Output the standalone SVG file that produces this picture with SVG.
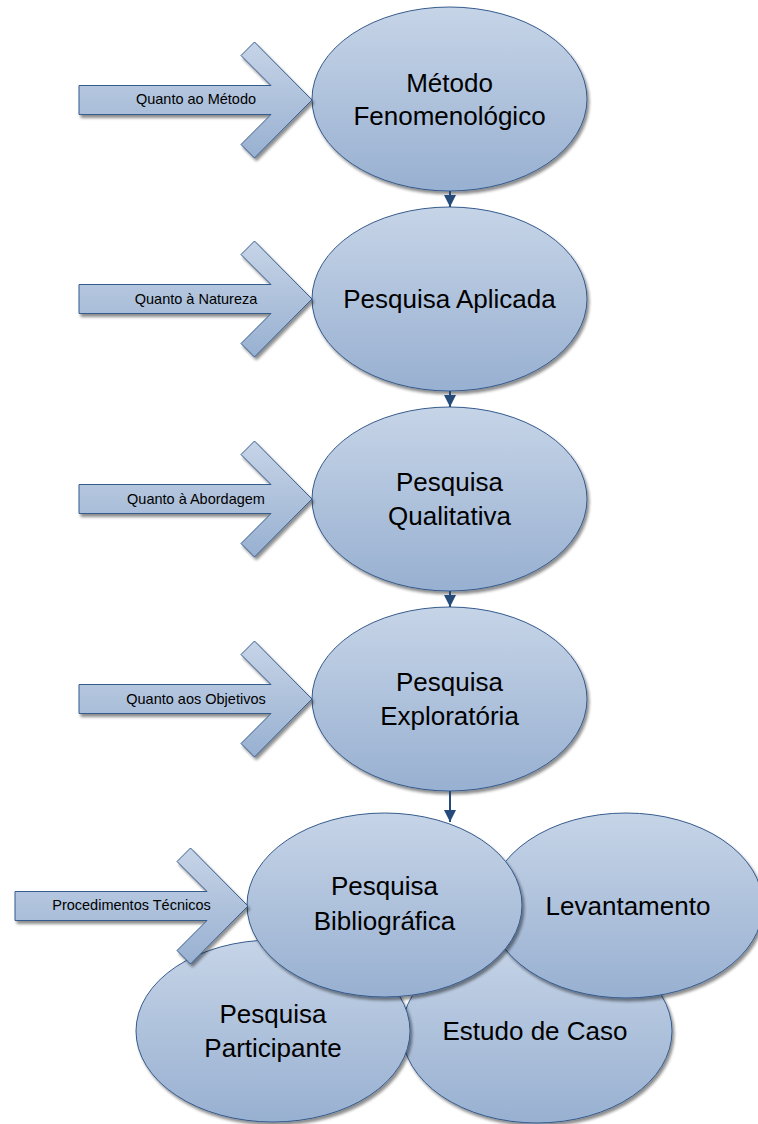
<svg xmlns="http://www.w3.org/2000/svg" xmlns:xlink="http://www.w3.org/1999/xlink" width="758" height="1124" viewBox="0 0 758 1124">
  <defs>
    <linearGradient id="fillBlue" x1="0" y1="0" x2="0" y2="1">
      <stop offset="0" stop-color="#c6d4e7"/>
      <stop offset="1" stop-color="#98b0d1"/>
    </linearGradient>
    <filter id="shadow" x="-10%" y="-10%" width="125%" height="130%">
      <feGaussianBlur in="SourceAlpha" stdDeviation="1.6"/>
      <feOffset dx="2" dy="2.5" result="off"/>
      <feComponentTransfer>
        <feFuncA type="linear" slope="0.45"/>
      </feComponentTransfer>
      <feMerge>
        <feMergeNode/>
        <feMergeNode in="SourceGraphic"/>
      </feMerge>
    </filter>
    <!-- block arrow with a chevron head; origin at the tip -->
    <path id="chevron" d="M -233 -14.5 H -41 L -71 -44.5 L -57.5 -58 L 0 0 L -57.5 58 L -71 44.5 L -41 14.5 H -233 Z"/>
    <marker id="arrowhead" markerUnits="userSpaceOnUse" markerWidth="12" markerHeight="12" refX="12" refY="6" orient="auto">
      <path d="M0,0 L12,6 L0,12 Z" fill="#244b7c"/>
    </marker>
  </defs>
  <style>
    .shape { fill: url(#fillBlue); stroke: #355b8c; stroke-width: 1; filter: url(#shadow); }
    .big { font-family: "Liberation Sans", Arial, sans-serif; font-size: 26px; fill: #000; text-anchor: middle; }
    .small { font-family: "Liberation Sans", Arial, sans-serif; font-size: 14.5px; fill: #000; text-anchor: middle; }
    .link { stroke: #244b7c; stroke-width: 2; fill: none; marker-end: url(#arrowhead); }
  </style>

  <rect width="758" height="1124" fill="#ffffff"/>

  <!-- main chain -->
  <g id="metodo-fenomenologico">
    <ellipse class="shape" cx="449.5" cy="99" rx="137.5" ry="92"/>
    <text class="big" x="449.5" y="92">Método</text>
    <text class="big" x="449.5" y="125">Fenomenológico</text>
  </g>
  <g id="pesquisa-aplicada">
    <ellipse class="shape" cx="449.5" cy="299" rx="137.5" ry="92"/>
    <text class="big" x="449.5" y="308">Pesquisa Aplicada</text>
  </g>
  <g id="pesquisa-qualitativa">
    <ellipse class="shape" cx="449.5" cy="499" rx="137.5" ry="92"/>
    <text class="big" x="449.5" y="491">Pesquisa</text>
    <text class="big" x="449.5" y="525">Qualitativa</text>
  </g>
  <g id="pesquisa-exploratoria">
    <ellipse class="shape" cx="449.5" cy="699" rx="137.5" ry="92"/>
    <text class="big" x="449.5" y="691">Pesquisa</text>
    <text class="big" x="449.5" y="725">Exploratória</text>
  </g>

  <!-- category arrows -->
  <g id="quanto-ao-metodo">
    <use class="shape" xlink:href="#chevron" href="#chevron" transform="translate(312,100)"/>
    <text class="small" x="196" y="104">Quanto ao Método</text>
  </g>
  <g id="quanto-a-natureza">
    <use class="shape" xlink:href="#chevron" href="#chevron" transform="translate(312,299)"/>
    <text class="small" x="196" y="304">Quanto à Natureza</text>
  </g>
  <g id="quanto-a-abordagem">
    <use class="shape" xlink:href="#chevron" href="#chevron" transform="translate(312,499)"/>
    <text class="small" x="196" y="504">Quanto à Abordagem</text>
  </g>
  <g id="quanto-aos-objetivos">
    <use class="shape" xlink:href="#chevron" href="#chevron" transform="translate(312,699)"/>
    <text class="small" x="196" y="704">Quanto aos Objetivos</text>
  </g>

  <!-- technical procedures cluster (back to front) -->
  <g id="estudo-de-caso">
    <ellipse class="shape" cx="537" cy="1031" rx="135" ry="92"/>
    <text class="big" x="535" y="1040">Estudo de Caso</text>
  </g>
  <g id="pesquisa-participante">
    <ellipse class="shape" cx="273" cy="1031" rx="137" ry="91"/>
    <text class="big" x="273" y="1023">Pesquisa</text>
    <text class="big" x="273" y="1057">Participante</text>
  </g>
  <g id="levantamento">
    <ellipse class="shape" cx="626" cy="905.5" rx="137" ry="92.5"/>
    <text class="big" x="628" y="915">Levantamento</text>
  </g>
  <g id="pesquisa-bibliografica">
    <ellipse class="shape" cx="384.5" cy="905" rx="137.5" ry="92"/>
    <text class="big" x="384.5" y="895">Pesquisa</text>
    <text class="big" x="384.5" y="930">Bibliográfica</text>
  </g>
  <g id="procedimentos-tecnicos">
    <use class="shape" xlink:href="#chevron" href="#chevron" transform="translate(248,906)"/>
    <text class="small" x="131.5" y="910">Procedimentos Técnicos</text>
  </g>

  <!-- connectors -->
  <g id="connectors">
    <line class="link" x1="450" y1="191" x2="450" y2="207"/>
    <line class="link" x1="450" y1="391" x2="450" y2="407"/>
    <line class="link" x1="450" y1="591" x2="450" y2="607"/>
    <line class="link" x1="450" y1="791" x2="450" y2="822"/>
  </g>
</svg>
